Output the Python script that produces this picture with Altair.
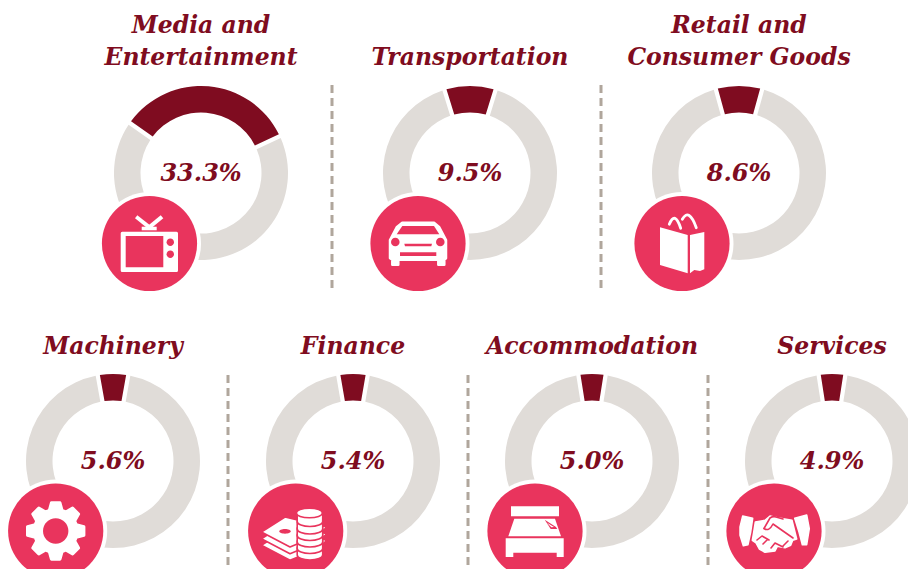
import math
import altair as alt
import pandas as pd

# ---- data ----
categories = ["Media and Entertainment", "Transportation", "Retail and Consumer Goods",
              "Machinery", "Finance", "Accommodation", "Services"]
title_lines = [["Media and", "Entertainment"], ["Transportation"], ["Retail and", "Consumer Goods"],
               ["Machinery"], ["Finance"], ["Accommodation"], ["Services"]]
shares = [33.3, 9.5, 8.6, 5.6, 5.4, 5.0, 4.9]

# ---- layout (page pixels) ----
donut_x = [201, 470, 739, 113, 353, 592, 832]
donut_y = [173, 173, 173, 461, 461, 461, 461]
donut_turn = [5, 0, 0, 0, 0, 0, 0]
badge_x = [149.5, 418, 682, 55.7, 295.7, 535, 774]
badge_y = [243.5, 243.5, 243.5, 531, 531, 531, 531]
sep_x = [332, 601, 228, 468, 708]
sep_y1 = [85, 85, 375, 375, 375]
sep_y2 = [292, 292, 577, 577, 577]

DARK = "#7f0c20"
GREY = "#e0dcd8"
PINK = "#e9345d"
WHITE = "#ffffff"
DASH = "#b0a69c"
FONT = "DejaVu Serif"
W, H = 900, 561

X = alt.Scale(domain=[8, 908])
Y = alt.Scale(domain=[569, 8])


def poly(pts, cx, cy):
    return "M" + "L".join(f"{(x-cx)/3:.1f},{(y-cy)/3:.1f}" for x, y in pts) + "Z"


def circ(x, y, r, cx=0, cy=0):
    x, y = (x - cx) / 3, (y - cy) / 3
    return f"M{x-r:.1f},{y:.1f}A{r},{r} 0 1,0 {x+r:.1f},{y:.1f}A{r},{r} 0 1,0 {x-r:.1f},{y:.1f}Z"


def ell(x, y, rx, ry, cx, cy):
    x, y = (x - cx) / 3, (y - cy) / 3
    return f"M{x-rx:.1f},{y:.1f}A{rx},{ry} 0 1,0 {x+rx:.1f},{y:.1f}A{rx},{ry} 0 1,0 {x-rx:.1f},{y:.1f}Z"


def gear():
    pts = []
    for i in range(8):
        a = i * math.pi / 4
        for r, d in [(21.5, -0.30), (28.5, -0.15), (28.5, 0.15), (21.5, 0.30)]:
            pts.append((r * math.cos(a + d), r * math.sin(a + d)))
    return "M" + "L".join(f"{x:.1f},{y:.1f}" for x, y in pts) + "Z"


# each icon: list of (fill, stroke, strokeWidth, path) in px relative to badge centre
c = (178.5, 730.5)
tv = [
    (WHITE, WHITE, 3, "M-27.3,-10.3H27L27,27H-27.3Z"),
    (WHITE, WHITE, 0, poly([(155, 680), (200, 680), (200, 691), (155, 691)], *c)),
    (WHITE, WHITE, 0, poly([(135, 655), (142, 646), (186, 680), (176, 688)], *c)),
    (WHITE, WHITE, 0, poly([(212, 646), (220, 655), (180, 688), (170, 680)], *c)),
    (PINK, PINK, 0, poly([(107, 708), (220, 708), (220, 802), (107, 802)], *c)),
    (PINK, PINK, 0, circ(241, 727, 3.7, *c)),
    (PINK, PINK, 0, circ(241, 763, 3.7, *c)),
]
c = (174, 160.5)
car = [
    (WHITE, WHITE, 2.5, poly([(127, 98), (222, 98), (238, 112), (258, 150), (258, 205), (253, 209), (253, 224), (235, 224),
                              (235, 209), (115, 209), (115, 224), (97, 224), (97, 209), (90, 205), (90, 150), (110, 112)], *c)),
    (PINK, PINK, 0, poly([(127, 108), (222, 108), (238, 133), (110, 133)], *c)),
    (PINK, PINK, 0, circ(106, 156, 4.3, *c)),
    (PINK, PINK, 0, circ(241, 156, 4.3, *c)),
    (PINK, PINK, 0, poly([(133, 161), (216, 161), (214, 169), (135, 169)], *c)),
    (PINK, PINK, 0, poly([(120, 187), (229, 187), (229, 198), (120, 198)], *c)),
]
c = (171, 160.5)
bag = [
    (WHITE, WHITE, 0, poly([(105, 112), (188, 135), (188, 250), (105, 225)], *c)),
    (WHITE, WHITE, 0, poly([(195, 135), (238, 126), (238, 238), (225, 243), (208, 240), (195, 250)], *c)),
    ("none", WHITE, 2.8, "M-12.7,-19.2Q-7,-33 -1.3,-15.2"),
    ("none", WHITE, 2.8, "M0.3,-24.2Q7,-36 14.3,-15.8"),
]
gear_icon = [
    (WHITE, WHITE, 3, gear()),
    (PINK, PINK, 0, circ(0, 0, 12.7)),
]
c = (167, 162)
bills = []
for dy in (40, 20, 0):
    bills.append((WHITE, PINK, 1.6, poly([(64, 165 + dy), (135, 120 + dy), (260, 150 + dy), (235, 175 + dy), (150, 210 + dy)], *c)))
stack = [(WHITE, PINK, 1.6, f"M1.5,{y}A12.7,5 0 0,1 27,{y}V{y+7}A12.7,5 0 0,1 1.5,{y+7}Z") for y in (17, 10.5, 4, -2.5, -9, -16.5)]
money = bills + [(PINK, PINK, 0, ell(135, 163, 5.8, 2.4, *c))] + stack + [(WHITE, PINK, 1.6, ell(208, 108, 13, 4.8, *c))]
c = (165, 162)
bed = [
    (WHITE, WHITE, 0, poly([(93, 88), (237, 88), (237, 118), (93, 118)], *c)),
    (WHITE, WHITE, 0, poly([(103, 125), (225, 125), (243, 178), (85, 178)], *c)),
    (WHITE, WHITE, 0, poly([(77, 184), (251, 184), (251, 240), (230, 240), (230, 227), (100, 227), (100, 240), (77, 240)], *c)),
    (PINK, PINK, 0, poly([(194, 128), (228, 150), (232, 156), (212, 156)], *c)),
    (WHITE, WHITE, 0, poly([(201, 137), (222, 150), (214, 151)], *c)),
]
c = (162, 162)
hands = [
    (WHITE, WHITE, 1.5, poly([(68, 117), (98, 124), (92, 165), (84, 203), (70, 206), (60, 175), (60, 150)], *c)),
    (WHITE, WHITE, 1.5, poly([(224, 124), (260, 114), (268, 155), (260, 203), (247, 203), (237, 165)], *c)),
    (WHITE, WHITE, 1.5, poly([(106, 135), (135, 130), (150, 117), (172, 122), (216, 130), (230, 186), (218, 190), (212, 205),
                              (195, 212), (172, 208), (165, 222), (135, 226), (118, 216), (108, 198), (97, 190), (101, 165)], *c)),
    ("none", PINK, 1.6, "M-10,-2.5L-4,-13Q-1,-15 2,-14L9,-12"),
    ("none", PINK, 1.6, "M-10,-2.5Q-5,1 -1,-7L19,7"),
    ("none", PINK, 1.6, "M-17,9L-12,5L-5,9M-11,13L-7,9M-3,17L1,12L9,16M9,15L14,10"),
]
icons = [tv, car, bag, gear_icon, money, bed, hands]

# ---- tables ----
arcs = []
for i, s in enumerate(shares):
    half = s / 100 * math.pi
    turn = math.radians(donut_turn[i])
    arcs.append(dict(x=donut_x[i], y=donut_y[i], part="other", a=turn + half, b=turn + 2 * math.pi - half, col=GREY))
    arcs.append(dict(x=donut_x[i], y=donut_y[i], part="share", a=turn - half, b=turn + half, col=DARK))
arcs = pd.DataFrame(arcs)

labels = pd.DataFrame({"x": donut_x, "y": [v + 1 for v in donut_y], "t": [f"{s:.1f}%" for s in shares]})

title_rows = []
for i, lines in enumerate(title_lines):
    base = 58 if donut_y[i] < 300 else 347
    for j, line in enumerate(lines):
        title_rows.append(dict(x=donut_x[i], y=base - 32 * (len(lines) - 1 - j), t=line))
titles = pd.DataFrame(title_rows)

seps = pd.DataFrame({"x": sep_x, "y": sep_y1, "y2": sep_y2})
badges = pd.DataFrame({"x": badge_x, "y": badge_y})

icon_rows = []
for i, parts in enumerate(icons):
    for k, (fill, stroke, sw, path) in enumerate(parts):
        icon_rows.append(dict(x=badge_x[i], y=badge_y[i], order=i * 100 + k, fill=fill, stroke=stroke, sw=sw, path=path))
icon_df = pd.DataFrame(icon_rows)

ex = alt.X("x:Q", scale=X, axis=None)
ey = alt.Y("y:Q", scale=Y, axis=None)

arc_layer = alt.Chart(arcs).mark_arc(innerRadius=60.5, outerRadius=87, padAngle=0.04).encode(
    x=ex, y=ey,
    theta=alt.Theta("a:Q", scale=None),
    theta2=alt.Theta2("b:Q"),
    fill=alt.Fill("col:N", scale=None),
)
sep_layer = alt.Chart(seps).mark_rule(color=DASH, strokeWidth=3, strokeDash=[8, 5]).encode(
    x=ex, y=ey, y2="y2:Q")
ring_layer = alt.Chart(badges).mark_circle(size=(2 * 51.5) ** 2, color=WHITE, opacity=1).encode(x=ex, y=ey)
badge_layer = alt.Chart(badges).mark_circle(size=(2 * 47.6) ** 2, color=PINK, opacity=1).encode(x=ex, y=ey)
icon_layers = [
    alt.Chart(icon_df[icon_df["order"] == o]).mark_point(opacity=1, size=4, strokeJoin="round", strokeCap="round",
                                                         shape=icon_df[icon_df["order"] == o]["path"].iloc[0]).encode(
        x=ex, y=ey,
        fill=alt.Fill("fill:N", scale=None),
        stroke=alt.Stroke("stroke:N", scale=None),
        strokeWidth=alt.StrokeWidth("sw:Q", scale=None),
    )
    for o in icon_df["order"]
]
pct_layer = alt.Chart(labels).mark_text(font=FONT, fontSize=24, fontWeight="bold", fontStyle="italic", color=DARK,
                                        align="center", baseline="middle").encode(x=ex, y=ey, text="t:N")
title_layer = alt.Chart(titles).mark_text(font=FONT, fontSize=23.5, fontWeight="bold", fontStyle="italic", color=DARK,
                                          align="center", baseline="middle").encode(x=ex, y=ey, text="t:N")

chart = alt.layer(arc_layer, sep_layer, ring_layer, badge_layer, *icon_layers, pct_layer, title_layer).properties(
    width=W, height=H, padding=0, autosize=alt.AutoSizeParams(type="none")
).configure_view(stroke=None)

chart.save("out.html", embed_options={"renderer": "svg", "actions": False})
